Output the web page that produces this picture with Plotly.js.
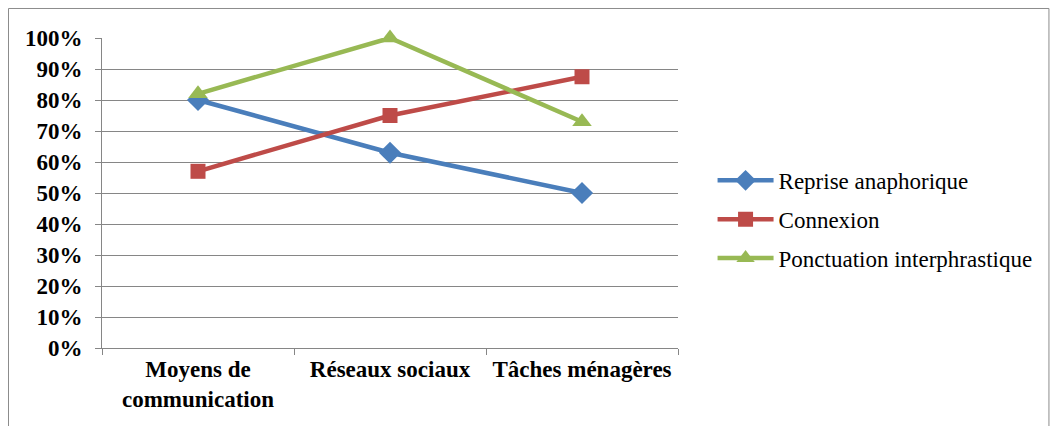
<!DOCTYPE html>
<html><head><meta charset="utf-8">
<script src="https://cdn.plot.ly/plotly-3.0.1.min.js"></script>
</head><body style="margin:0;background:#fff">
<div id="chart" style="width:1050px;height:426px"></div>
<script>
const categories = ["Moyens de<br>communication", "Réseaux sociaux", "Tâches ménagères"];
const reprise = [0.80, 0.63, 0.50];
const connexion = [0.57, 0.75, 0.875];
const ponctuation = [0.82, 1.00, 0.73];
const seriesNames = ["Reprise anaphorique", "Connexion", "Ponctuation interphrastique"];
const yTickVals = [0,0.1,0.2,0.3,0.4,0.5,0.6,0.7,0.8,0.9,1.0];
const yTickText = ["0%","10%","20%","30%","40%","50%","60%","70%","80%","90%","100%"];

// warm up the serif font synchronously (no DOM text)
(function(){
  var c = document.createElement('canvas').getContext('2d');
  c.font = '23px "Liberation Serif"'; c.measureText('Reprise');
  c.font = 'bold 23px "Liberation Serif"'; c.measureText('100%');
})();

function mk(y, name, color, symbol, size, grp) {
  return {
    x: categories, y: y, name: name, type: 'scatter', mode: 'lines+markers',
    legendgroup: grp, cliponaxis: false,
    line: {color: color, width: 4.5},
    marker: {color: color, symbol: symbol, size: size}
  };
}
var traces = [
  mk(reprise, seriesNames[0], '#4a7ebb', 'diamond', 17, 'a'),
  mk(connexion, seriesNames[1], '#be4b48', 'square', 15, 'b'),
  mk(ponctuation, seriesNames[2], '#98b954', 'triangle-up', 17, 'c')
];
Plotly.newPlot('chart', traces, {
  width: 1050, height: 426,
  margin: {l: 102, r: 372, t: 38, b: 78},
  paper_bgcolor: '#fff', plot_bgcolor: '#fff',
  font: {family: 'Times New Roman'},
  showlegend: true,
  legend: {x: 1.06, xanchor: 'left', y: 0.415, yanchor: 'middle',
    font: {size: 23, family: 'Liberation Serif', color: '#000'},
    tracegroupgap: 6, itemwidth: 56},
  shapes: [{type: 'rect', xref: 'paper', yref: 'paper',
    x0: -0.1623, x1: 1.644, y0: -0.258, y1: 1.0952,
    line: {color: '#8c8c8c', width: 1}, fillcolor: 'rgba(0,0,0,0)', layer: 'below'}],
  xaxis: {
    type: 'category', range: [-0.5, 2.5], tickson: 'boundaries',
    ticks: 'outside', ticklen: 6, tickcolor: '#868686',
    showline: true, linecolor: '#868686', linewidth: 1,
    showgrid: false, zeroline: false,
    tickfont: {size: 23, family: 'Liberation Serif', color: '#000', weight: 'bold'}
  },
  yaxis: {
    range: [0, 1.0], tickvals: yTickVals, ticktext: yTickText,
    ticks: 'outside', ticklen: 6, tickcolor: '#868686',
    showline: true, linecolor: '#868686', linewidth: 1,
    showgrid: true, gridcolor: '#868686', gridwidth: 1, zeroline: false,
    ticklabelstandoff: 8,
    tickfont: {size: 23, family: 'Liberation Serif', color: '#000', weight: 'bold'}
  }
}, {staticPlot: true});
</script>
</body></html>
